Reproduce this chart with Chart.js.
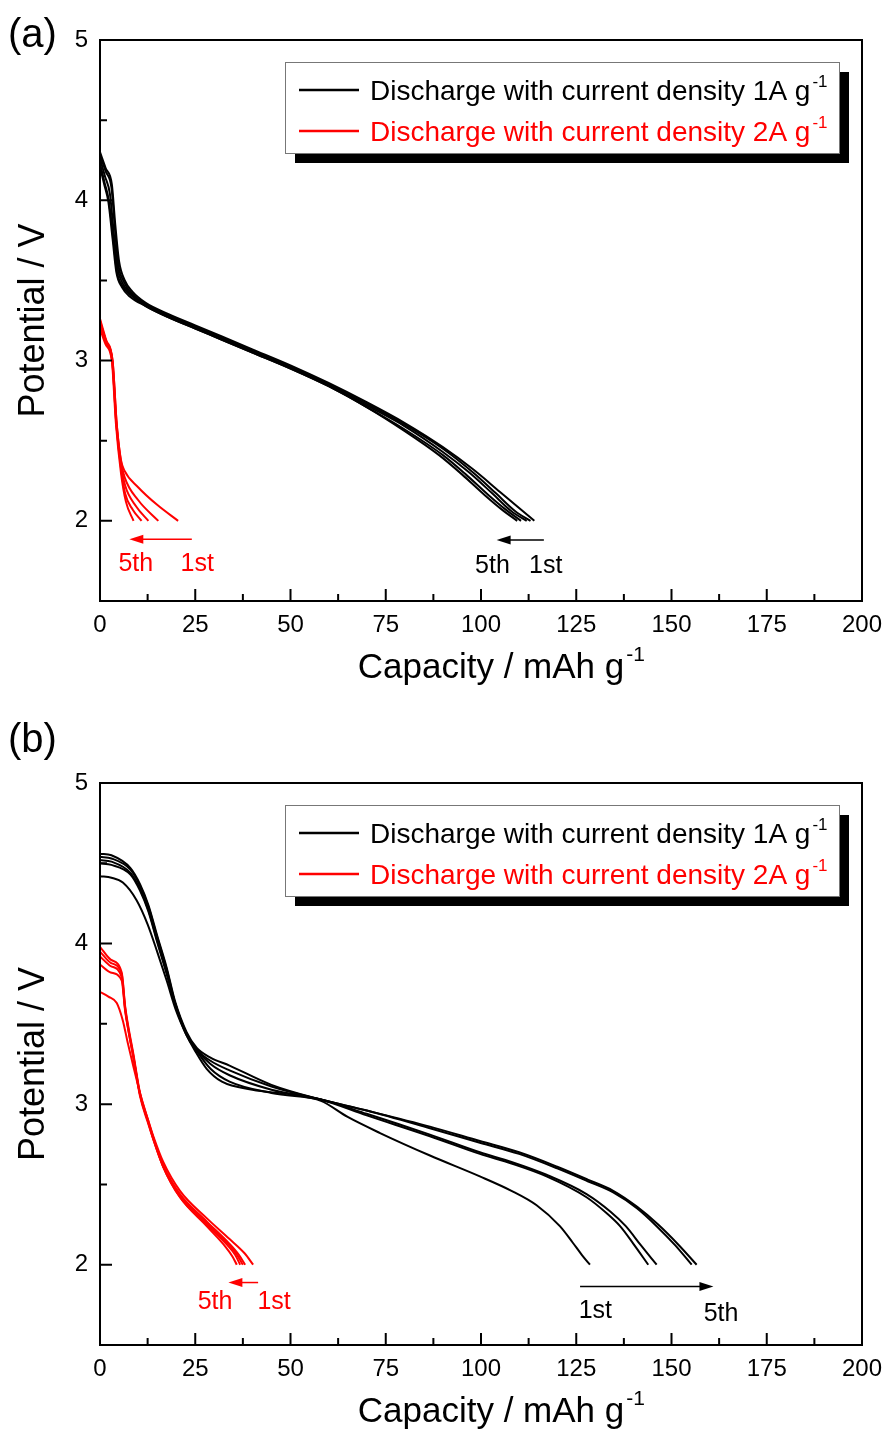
<!DOCTYPE html>
<html>
<head>
<meta charset="utf-8">
<script src="https://cdn.jsdelivr.net/npm/chart.js@4.4.1/dist/chart.umd.min.js"></script>
<style>
  body { margin: 0; background: #fff; }
  .panel { position: absolute; left: 0; width: 885px; height: 716px; }
</style>
</head>
<body>
<div class="panel" style="top:0"><canvas id="chartA"></canvas></div>
<div class="panel" style="top:716px"><canvas id="chartB"></canvas></div>
<script>
// Axis ticks (shared by both panels)
const xTicks = [0, 25, 50, 75, 100, 125, 150, 175, 200];
const yTicks = [2, 3, 4, 5];
const legendLabels = ['Discharge with current density 1A g', 'Discharge with current density 2A g'];

// (a) discharge curves, 1 A/g, cycles 1..5  [capacity, potential]
const a1A_c1 = [[0,4.30],[1.5,4.20],[3.1,4.10],[4.0,3.85],[5.0,3.62],[6.5,3.50],[8.5,3.43],[12,3.36],[18,3.29],[25,3.22],[32,3.15],[40,3.07],[50,2.97],[60,2.86],[70,2.74],[80,2.61],[90,2.46],[98,2.32],[105,2.18],[110,2.08],[114,2.00]];
const a1A_c2 = [[0,4.28],[1.5,4.18],[3.0,4.08],[3.9,3.83],[4.8,3.60],[6.3,3.49],[8.3,3.42],[12,3.35],[18,3.28],[25,3.21],[32,3.14],[40,3.06],[50,2.96],[60,2.85],[70,2.73],[80,2.60],[90,2.45],[98,2.30],[104,2.17],[109,2.06],[113,2.00]];
const a1A_c3 = [[0,4.26],[1.3,4.15],[2.6,4.04],[3.6,3.80],[4.6,3.58],[6.0,3.48],[8.0,3.42],[12,3.35],[18,3.28],[25,3.21],[32,3.14],[40,3.06],[50,2.96],[60,2.85],[70,2.72],[80,2.59],[90,2.43],[97,2.30],[103,2.17],[108,2.06],[112,2.00]];
const a1A_c4 = [[0,4.23],[1.2,4.11],[2.3,4.00],[3.4,3.78],[4.4,3.56],[5.8,3.47],[8.0,3.41],[12,3.34],[18,3.27],[25,3.20],[32,3.13],[40,3.05],[50,2.95],[60,2.84],[70,2.71],[80,2.57],[90,2.41],[96,2.29],[102,2.16],[106.5,2.07],[110.5,2.00]];
const a1A_c5 = [[0,4.21],[1.1,4.10],[2.2,3.99],[3.3,3.76],[4.3,3.55],[5.7,3.46],[7.8,3.40],[12,3.34],[18,3.27],[25,3.20],[32,3.13],[40,3.05],[50,2.95],[60,2.84],[70,2.71],[80,2.56],[89,2.41],[95,2.29],[101,2.16],[105.5,2.07],[109.5,2.00]];

// (a) discharge curves, 2 A/g
const a2A_c1 = [[0,3.26],[1.6,3.13],[3.3,3.00],[4.4,2.60],[5.5,2.38],[6.5,2.31],[10,2.21],[15,2.10],[20.5,2.00]];
const a2A_c2 = [[0,3.25],[1.6,3.12],[3.3,3.00],[4.4,2.60],[5.5,2.37],[6.5,2.27],[10,2.13],[15.3,2.00]];
const a2A_c3 = [[0,3.24],[1.6,3.12],[3.2,3.00],[4.3,2.60],[5.5,2.35],[6.6,2.22],[9.5,2.09],[12.7,2.00]];
const a2A_c4 = [[0,3.22],[1.6,3.11],[3.2,3.00],[4.3,2.60],[5.5,2.33],[6.6,2.17],[8.6,2.07],[10.9,2.00]];
const a2A_c5 = [[0,3.20],[1.5,3.10],[3.1,3.00],[4.2,2.60],[5.5,2.30],[6.8,2.12],[8.8,2.00]];

// (b) discharge curves, 1 A/g
const b1A_c1 = [[0,4.42],[3,4.41],[6,4.38],[9.6,4.27],[12.5,4.12],[15,3.95],[17.5,3.77],[20,3.58],[22.5,3.44],[25,3.33],[28,3.22],[32,3.14],[40,3.09],[50,3.06],[58,3.02],[65,2.92],[73.5,2.82],[86.6,2.68],[99.7,2.55],[108,2.46],[114.6,2.37],[120.7,2.24],[124,2.14],[126.5,2.06],[128.6,2.00]];
const b1A_c2 = [[0,4.52],[3,4.51],[8,4.44],[10.5,4.34],[12.7,4.21],[15,4.02],[17.5,3.82],[19.7,3.63],[22.7,3.44],[25.4,3.34],[29,3.25],[34,3.18],[45,3.09],[57.7,3.03],[70,2.93],[86.6,2.80],[99.7,2.69],[108,2.63],[117.2,2.55],[127.7,2.42],[133,2.32],[136.5,2.24],[140,2.13],[143.9,2.00]];
const b1A_c3 = [[0,4.50],[3,4.49],[8,4.43],[10.5,4.33],[12.7,4.20],[15,4.01],[17.5,3.81],[19.7,3.62],[22.7,3.43],[25.4,3.33],[29,3.22],[34,3.14],[45,3.07],[57.7,3.03],[70,2.94],[86.6,2.81],[99.7,2.70],[108,2.64],[117.2,2.56],[127.7,2.44],[134,2.33],[138,2.24],[142,2.12],[146.1,2.00]];
const b1A_c4 = [[0,4.56],[3,4.55],[8,4.47],[10.5,4.37],[12.7,4.24],[15,4.05],[17.5,3.85],[19.7,3.64],[22.7,3.45],[25.4,3.35],[29,3.29],[34,3.24],[45,3.12],[57.7,3.03],[70,2.96],[86.6,2.85],[99.7,2.76],[110,2.69],[120,2.60],[128,2.52],[134.7,2.45],[141,2.35],[146.1,2.24],[151,2.12],[155.3,2.00]];
const b1A_c5 = [[0,4.54],[3,4.53],[8,4.46],[10.5,4.36],[12.7,4.23],[15,4.04],[17.5,3.84],[19.7,3.63],[22.7,3.44],[25.4,3.34],[29,3.27],[34,3.21],[45,3.11],[57.7,3.03],[70,2.96],[86.6,2.86],[99.7,2.77],[110,2.70],[120,2.61],[128,2.53],[134.7,2.46],[141,2.36],[146.5,2.25],[152,2.12],[156.6,2.00]];

// (b) discharge curves, 2 A/g
const b2A_c1 = [[0,3.70],[2.2,3.67],[4.4,3.63],[6,3.52],[7.3,3.38],[8.7,3.24],[10.5,3.07],[12.5,2.91],[14,2.80],[16.6,2.64],[21,2.46],[28,2.29],[34,2.16],[38,2.07],[40.2,2.00]];
const b2A_c2 = [[0,3.87],[2.8,3.82],[5.7,3.77],[6.6,3.58],[7.6,3.44],[8.7,3.30],[10.5,3.06],[12.5,2.90],[14,2.79],[16.6,2.62],[21,2.44],[28,2.27],[34,2.13],[36.5,2.06],[38.1,2.00]];
const b2A_c3 = [[0,3.92],[2.8,3.86],[5.7,3.79],[6.6,3.59],[7.6,3.44],[8.7,3.30],[10.5,3.05],[12.5,2.89],[14,2.78],[16.6,2.61],[21,2.43],[28,2.26],[34,2.12],[36,2.06],[37.5,2.00]];
const b2A_c4 = [[0,3.95],[2.8,3.88],[5.7,3.81],[6.6,3.60],[7.6,3.45],[8.7,3.31],[10.5,3.06],[12.5,2.90],[14,2.78],[16.6,2.61],[21,2.42],[28,2.25],[33.5,2.12],[35.5,2.06],[36.8,2.00]];
const b2A_c5 = [[0,3.98],[2.8,3.90],[5.7,3.82],[6.6,3.61],[7.6,3.46],[8.7,3.32],[10.5,3.07],[12.5,2.91],[14,2.79],[16.6,2.61],[21,2.42],[28,2.24],[33,2.11],[34.8,2.05],[35.9,2.00]];

// cycle-order arrows and labels, in data units
const notesA = {
  arrows: [{ from: [24.1, 1.885], to: [7.7, 1.885], color: '#ff0000' },
           { from: [116.5, 1.88], to: [104.1, 1.88], color: '#000' }],
  labels: [{ text: '5th', x: 9.4, y: 1.73, color: '#ff0000' }, { text: '1st', x: 25.5, y: 1.73, color: '#ff0000' },
           { text: '5th', x: 103, y: 1.72, color: '#000' }, { text: '1st', x: 117, y: 1.72, color: '#000' }]
};
const notesB = {
  arrows: [{ from: [41.5, 1.889], to: [33.7, 1.889], color: '#ff0000' },
           { from: [126, 1.864], to: [161, 1.864], color: '#000' }],
  labels: [{ text: '5th', x: 30.2, y: 1.77, color: '#ff0000' }, { text: '1st', x: 45.7, y: 1.77, color: '#ff0000' },
           { text: '1st', x: 130, y: 1.71, color: '#000' }, { text: '5th', x: 163, y: 1.69, color: '#000' }]
};

const FONT = '"Liberation Sans", Arial, sans-serif';

function toXY(arr) {
  return arr.map(p => ({ x: p[0], y: p[1] }));
}

function makeDatasets(black, red) {
  const ds = [];
  black.forEach((c, i) => ds.push({ label: '1A c' + (i + 1), data: toXY(c), borderColor: '#000' }));
  red.forEach((c, i) => ds.push({ label: '2A c' + (i + 1), data: toXY(c), borderColor: '#ff0000' }));
  return ds;
}

function drawArrow(ctx, x0, y0, x1, y1, color) {
  const dir = Math.sign(x1 - x0);
  ctx.strokeStyle = color;
  ctx.fillStyle = color;
  ctx.lineWidth = 1.5;
  ctx.beginPath();
  ctx.moveTo(x0, y0);
  ctx.lineTo(x1 - dir * 10, y1);
  ctx.stroke();
  ctx.beginPath();
  ctx.moveTo(x1, y1);
  ctx.lineTo(x1 - dir * 14, y1 - 4.5);
  ctx.lineTo(x1 - dir * 14, y1 + 4.5);
  ctx.closePath();
  ctx.fill();
}

// text followed by a raised "-1"
function drawSupText(ctx, text, x, y, size, color) {
  ctx.fillStyle = color;
  ctx.textBaseline = 'alphabetic';
  ctx.textAlign = 'left';
  ctx.font = size + 'px ' + FONT;
  ctx.fillText(text, x, y);
  const w = ctx.measureText(text).width;
  ctx.font = Math.round(size * 0.6) + 'px ' + FONT;
  ctx.fillText('-1', x + w + 2, y - size * 0.48);
  return w + ctx.measureText('-1').width + 2;
}

const decor = {
  id: 'decor',
  afterDraw(chart, args, opts) {
    const { ctx, chartArea: ca, scales: { x, y } } = chart;
    ctx.save();

    // frame
    ctx.strokeStyle = '#000';
    ctx.lineWidth = 2;
    ctx.strokeRect(ca.left, ca.top, ca.right - ca.left, ca.bottom - ca.top);

    // inward ticks, major + minor
    ctx.beginPath();
    xTicks.forEach((v, i) => {
      const px = x.getPixelForValue(v);
      ctx.moveTo(px, ca.bottom); ctx.lineTo(px, ca.bottom - 12);
      if (i < xTicks.length - 1) {
        const m = x.getPixelForValue((v + xTicks[i + 1]) / 2);
        ctx.moveTo(m, ca.bottom); ctx.lineTo(m, ca.bottom - 7);
      }
    });
    yTicks.forEach(v => {
      const py = y.getPixelForValue(v);
      ctx.moveTo(ca.left, py); ctx.lineTo(ca.left + 12, py);
      const m = y.getPixelForValue(v - 0.5);
      ctx.moveTo(ca.left, m); ctx.lineTo(ca.left + 7, m);
    });
    ctx.stroke();

    // legend with drop shadow
    const lx = ca.left + 185, ly = ca.top + 22, lw = 554, lh = 91;
    ctx.fillStyle = '#000';
    ctx.fillRect(lx + 10, ly + 10, lw, lh);
    ctx.fillStyle = '#fff';
    ctx.fillRect(lx, ly, lw, lh);
    ctx.strokeStyle = '#777';
    ctx.lineWidth = 1;
    ctx.strokeRect(lx + 0.5, ly + 0.5, lw, lh);
    ['#000', '#ff0000'].forEach((c, i) => {
      const yy = ly + 28 + i * 41;
      ctx.strokeStyle = c;
      ctx.lineWidth = 2.5;
      ctx.beginPath();
      ctx.moveTo(lx + 14, yy); ctx.lineTo(lx + 74, yy);
      ctx.stroke();
      drawSupText(ctx, legendLabels[i], lx + 85, yy + 10, 28, c);
    });

    // cycle arrows + labels
    opts.notes.arrows.forEach(a => {
      drawArrow(ctx, x.getPixelForValue(a.from[0]), y.getPixelForValue(a.from[1]),
        x.getPixelForValue(a.to[0]), y.getPixelForValue(a.to[1]), a.color);
    });
    ctx.font = '25px ' + FONT;
    ctx.textAlign = 'center';
    ctx.textBaseline = 'middle';
    opts.notes.labels.forEach(l => {
      ctx.fillStyle = l.color;
      ctx.fillText(l.text, x.getPixelForValue(l.x), y.getPixelForValue(l.y));
    });

    // x axis title
    ctx.font = '35px ' + FONT;
    const tw = ctx.measureText('Capacity / mAh g').width + 24;
    const cx = (ca.left + ca.right) / 2 + 22;
    drawSupText(ctx, 'Capacity / mAh g', cx - tw / 2, opts.titleY, 35, '#000');

    // panel letter
    ctx.font = '40px ' + FONT;
    ctx.fillStyle = '#000';
    ctx.textAlign = 'left';
    ctx.textBaseline = 'middle';
    ctx.fillText(opts.panel, 8, opts.panelY);

    ctx.restore();
  }
};

function makeChart(id, black, red, plotTop, xAxisH, notes, panel, panelY, titleY) {
  return new Chart(document.getElementById(id), {
    type: 'line',
    data: { datasets: makeDatasets(black, red) },
    options: {
      responsive: true,
      maintainAspectRatio: false,
      animation: false,
      layout: { padding: { top: plotTop, right: 23, left: 0, bottom: 0 } },
      elements: {
        point: { radius: 0 },
        line: { borderWidth: 2, cubicInterpolationMode: 'monotone', fill: false }
      },
      plugins: {
        legend: { display: false },
        tooltip: { enabled: false },
        decor: { notes: notes, panel: panel, panelY: panelY, titleY: titleY }
      },
      scales: {
        x: {
          type: 'linear', min: 0, max: 200,
          afterFit: s => { s.height = xAxisH; s.paddingLeft = 0; s.paddingRight = 0; },
          afterBuildTicks: s => { s.ticks = xTicks.map(v => ({ value: v })); },
          grid: { display: false, drawTicks: false },
          border: { display: false },
          ticks: { padding: 10, color: '#000', maxRotation: 0, font: { family: FONT, size: 24 } }
        },
        y: {
          type: 'linear', min: 1.5, max: 5,
          afterFit: s => { s.width = 100; s.paddingTop = 0; s.paddingBottom = 0; },
          afterBuildTicks: s => { s.ticks = yTicks.map(v => ({ value: v })); },
          grid: { display: false, drawTicks: false },
          border: { display: false },
          ticks: { padding: 12, color: '#000', font: { family: FONT, size: 24 } },
          title: { display: true, text: 'Potential / V', color: '#000',
                   font: { family: FONT, size: 36 }, padding: { top: 12, bottom: 0 } }
        }
      }
    },
    plugins: [decor]
  });
}

makeChart('chartA', [a1A_c1, a1A_c2, a1A_c3, a1A_c4, a1A_c5], [a2A_c1, a2A_c2, a2A_c3, a2A_c4, a2A_c5],
  40, 115, notesA, '(a)', 36, 678);
makeChart('chartB', [b1A_c1, b1A_c2, b1A_c3, b1A_c4, b1A_c5], [b2A_c1, b2A_c2, b2A_c3, b2A_c4, b2A_c5],
  67, 87, notesB, '(b)', 25, 706);
</script>
</body>
</html>
